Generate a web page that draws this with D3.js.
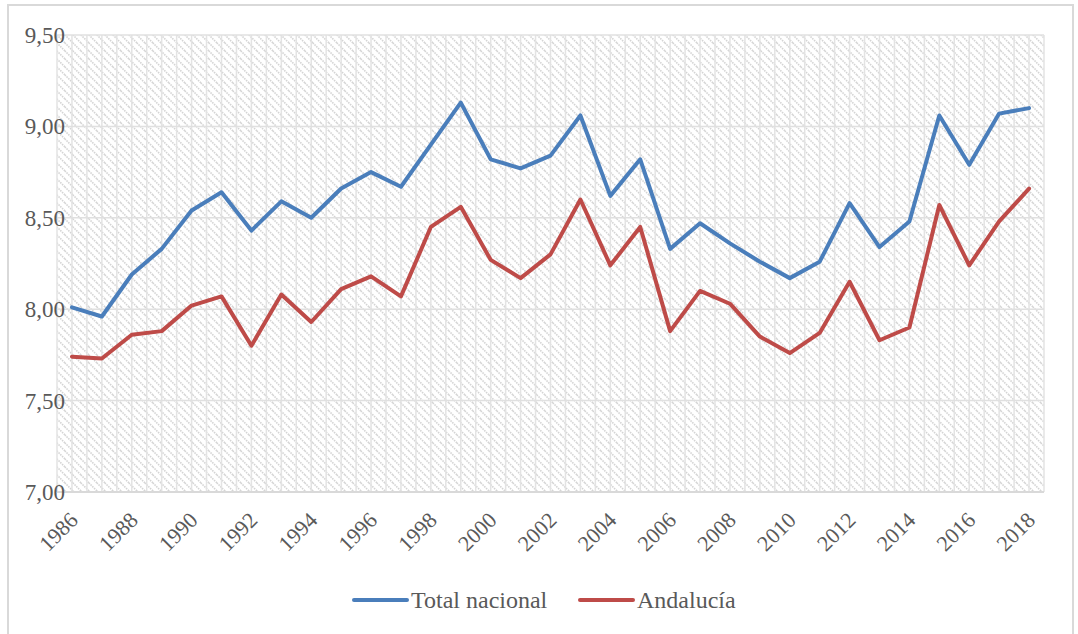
<!DOCTYPE html>
<html>
<head>
<meta charset="UTF-8">
<script src="https://d3js.org/d3.v7.min.js"></script>
</head>
<body style="margin:0">
<div id="chart"></div>
<script>
    var years = d3.range(1986, 2019);
    var totalNacional = [8.01, 7.96, 8.19, 8.33, 8.54, 8.64, 8.43, 8.59, 8.50, 8.66, 8.75, 8.67, 8.90, 9.13,
        8.82, 8.77, 8.84, 9.06, 8.62, 8.82, 8.33, 8.47, 8.36, 8.26, 8.17, 8.26, 8.58, 8.34, 8.48, 9.06, 8.79, 9.07, 9.10];
    var andalucia = [7.74, 7.73, 7.86, 7.88, 8.02, 8.07, 7.80, 8.08, 7.93, 8.11, 8.18, 8.07, 8.45, 8.56,
        8.27, 8.17, 8.30, 8.60, 8.24, 8.45, 7.88, 8.10, 8.03, 7.85, 7.76, 7.87, 8.15, 7.83, 7.90, 8.57, 8.24, 8.48, 8.66];
    var yTicks = [7.0, 7.5, 8.0, 8.5, 9.0, 9.5];
    var xTicks = years.filter(function(d) { return d % 2 === 0; });
    var series = [
        { name: "Total nacional", values: totalNacional, color: "#4A7EBB" },
        { name: "Andalucía", values: andalucia, color: "#BE4B48" }
    ];

    var textColor = "#595959";

    var margin = { top: 35, right: 34, bottom: 142, left: 57 },
        width = 1078 - margin.left - margin.right,
        height = 634 - margin.top - margin.bottom;

    var svg = d3.select("#chart").append("svg")
        .attr("width", 1078)
        .attr("height", 634);

    // outer chart border
    svg.append("rect")
        .attr("x", 8).attr("y", 5)
        .attr("width", 1065).attr("height", 640)
        .attr("fill", "#fff")
        .attr("stroke", "#d9d9d9")
        .attr("stroke-width", 2);

    var pat = svg.append("defs").append("pattern")
        .attr("id", "hatch")
        .attr("patternUnits", "userSpaceOnUse")
        .attr("width", 8).attr("height", 8);
    pat.append("rect").attr("width", 8).attr("height", 8).attr("fill", "#fff");
    pat.append("path")
        .attr("d", "M-2,-2 L10,10 M-2,6 L2,10 M6,-2 L10,2")
        .attr("stroke", "#d4d4d4")
        .attr("stroke-width", 1.6)
        .attr("stroke-dasharray", "1.5,1");

    var g = svg.append("g")
        .attr("transform", "translate(" + margin.left + "," + margin.top + ")");

    var x = d3.scaleBand().domain(years).range([0, width]);
    var y = d3.scaleLinear().domain([7, 9.5]).range([height, 0]);

    g.append("rect")
        .attr("width", width).attr("height", height)
        .attr("fill", "url(#hatch)");

    // vertical gridlines at category edges and centres
    var vLines = [];
    years.forEach(function(yr) {
        vLines.push(x(yr));
        vLines.push(x(yr) + x.bandwidth() / 2);
    });
    vLines.push(width);
    g.selectAll("line.vgrid")
        .data(vLines)
      .enter().append("line")
        .attr("class", "vgrid")
        .attr("x1", function(d) { return d; })
        .attr("x2", function(d) { return d; })
        .attr("y1", 0).attr("y2", height)
        .attr("stroke", "#e3e3e3")
        .attr("stroke-width", 1.5);

    g.selectAll("line.hgrid")
        .data(yTicks)
      .enter().append("line")
        .attr("class", "hgrid")
        .attr("x1", 0).attr("x2", width)
        .attr("y1", function(d) { return y(d); })
        .attr("y2", function(d) { return y(d); })
        .attr("stroke", "#e0e0e0")
        .attr("stroke-width", 1.5);

    // bottom axis line
    g.append("line")
        .attr("x1", 0).attr("x2", width)
        .attr("y1", height).attr("y2", height)
        .attr("stroke", "#d9d9d9")
        .attr("stroke-width", 2);

    // y labels
    g.selectAll("text.ylab")
        .data(yTicks)
      .enter().append("text")
        .attr("class", "ylab")
        .attr("x", 8)
        .attr("y", function(d) { return y(d); })
        .attr("dy", "0.35em")
        .attr("text-anchor", "end")
        .attr("font-family", "Liberation Serif")
        .attr("font-size", 23)
        .attr("fill", textColor)
        .text(function(d) { return d3.format(".2f")(d).replace(".", ","); });

    // x labels, every other year, rotated
    g.selectAll("text.xlab")
        .data(xTicks)
      .enter().append("text")
        .attr("class", "xlab")
        .attr("text-anchor", "end")
        .attr("dy", "0.35em")
        .attr("font-family", "Liberation Serif")
        .attr("font-size", 22)
        .attr("fill", textColor)
        .attr("transform", function(d) {
            return "translate(" + (x(d) + x.bandwidth() / 2 + 2) + "," + (height + 24) + ") rotate(-45)";
        })
        .text(function(d) { return d; });

    var line = d3.line()
        .x(function(d, i) { return x(years[i]) + x.bandwidth() / 2; })
        .y(function(d) { return y(d); });

    series.forEach(function(s) {
        g.append("path")
            .datum(s.values)
            .attr("fill", "none")
            .attr("stroke", s.color)
            .attr("stroke-width", 4)
            .attr("stroke-linejoin", "round")
            .attr("stroke-linecap", "round")
            .attr("d", line);
    });

    // legend
    var legendX = [354, 580];
    series.forEach(function(s, i) {
        var lg = svg.append("g").attr("transform", "translate(" + legendX[i] + ",600)");
        lg.append("line")
            .attr("x1", 0).attr("x2", 53)
            .attr("stroke", s.color)
            .attr("stroke-width", 4)
            .attr("stroke-linecap", "round");
        lg.append("text")
            .attr("x", 57).attr("dy", "0.35em")
            .attr("font-family", "Liberation Serif")
            .attr("font-size", 24)
            .attr("fill", textColor)
            .text(s.name);
    });
</script>
</body>
</html>
